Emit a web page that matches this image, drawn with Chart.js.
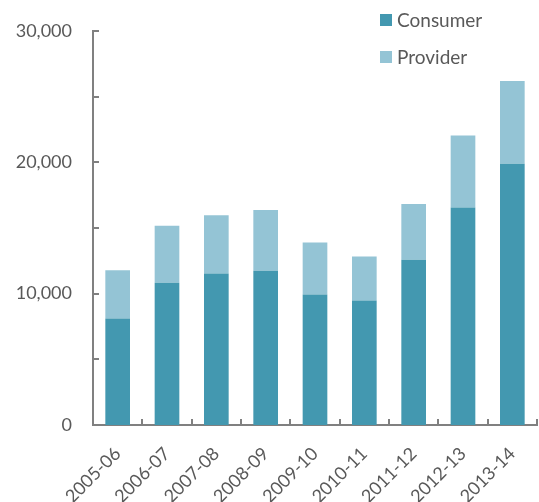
<!DOCTYPE html>
<html>
<head>
<meta charset="utf-8">
<script src="https://cdn.jsdelivr.net/npm/chart.js@4/dist/chart.umd.min.js"></script>
<style>
    html, body { margin: 0; padding: 0; background: #fff; }
    #wrap { position: relative; width: 539px; height: 502px; }
    #legend { position: absolute; left: 380px; top: 1px; font-family: Lato, sans-serif; font-size: 19px; color: #595959; }
    .item { display: flex; align-items: center; height: 37px; }
    .box { width: 12px; height: 12px; margin-right: 5px; }
</style>
</head>
<body>
<div id="wrap">
    <canvas id="chart" width="539" height="502"></canvas>
    <div id="legend"></div>
</div>
<script>
const years = ['2005-06', '2006-07', '2007-08', '2008-09', '2009-10', '2010-11', '2011-12', '2012-13', '2013-14'];
const consumer = [8100, 10830, 11540, 11740, 9940, 9480, 12580, 16560, 19890];
const provider = [3680, 4340, 4440, 4640, 3960, 3350, 4240, 5480, 6310];
const seriesNames = ['Consumer', 'Provider'];
const seriesColors = ['#4398b0', '#94c4d5'];
const yTicks = [0, 10000, 20000, 30000];

const axisColor = '#808080';
const textColor = '#595959';

// inward tick marks, like the original
const tickMarks = {
    id: 'tickMarks',
    afterDraw(chart) {
        const ctx = chart.ctx;
        const x = chart.scales.x;
        const y = chart.scales.y;
        ctx.save();
        ctx.strokeStyle = axisColor;
        ctx.lineWidth = 2;
        y.ticks.forEach(t => {
            const py = Math.round(y.getPixelForValue(t.value));
            ctx.beginPath();
            ctx.moveTo(y.right, py);
            ctx.lineTo(y.right + 6, py);
            ctx.stroke();
        });
        for (let i = 0; i < years.length; i++) {
            const px = i < years.length - 1
                ? (x.getPixelForValue(i) + x.getPixelForValue(i + 1)) / 2
                : x.right;
            ctx.beginPath();
            ctx.moveTo(Math.round(px), x.top);
            ctx.lineTo(Math.round(px), x.top - 6);
            ctx.stroke();
        }
        ctx.restore();
    }
};

new Chart(document.getElementById('chart'), {
    type: 'bar',
    data: {
        labels: years,
        datasets: [
            { label: seriesNames[0], data: consumer, backgroundColor: seriesColors[0], borderWidth: 0 },
            { label: seriesNames[1], data: provider, backgroundColor: seriesColors[1], borderWidth: 0 }
        ]
    },
    options: {
        responsive: false,
        animation: false,
        devicePixelRatio: 1,
        layout: { padding: { top: 31, right: 2, left: 0, bottom: 0 } },
        datasets: { bar: { barPercentage: 0.5, categoryPercentage: 1 } },
        plugins: { legend: { display: false }, tooltip: { enabled: false } },
        scales: {
            x: {
                stacked: true,
                grid: { display: false },
                border: { color: axisColor, width: 2 },
                ticks: {
                    color: textColor,
                    font: { family: 'Lato', size: 18 },
                    minRotation: 45,
                    maxRotation: 45,
                    padding: 10
                },
                afterFit(scale) { scale.height = 77; }
            },
            y: {
                stacked: true,
                min: 0,
                max: 30000,
                grid: { display: false },
                border: { color: axisColor, width: 2 },
                ticks: {
                    stepSize: 5000,
                    color: textColor,
                    font: { family: 'Lato', size: 18 },
                    padding: 13,
                    callback: v => yTicks.includes(v) ? v.toLocaleString('en-US') : ''
                },
                afterFit(scale) { scale.width = 93; }
            }
        }
    },
    plugins: [tickMarks]
});

const legend = document.getElementById('legend');
seriesNames.forEach((name, i) => {
    const item = document.createElement('div');
    item.className = 'item';
    item.innerHTML = `<span class="box" style="background:${seriesColors[i]}"></span><span>${name}</span>`;
    legend.appendChild(item);
});
</script>
</body>
</html>
